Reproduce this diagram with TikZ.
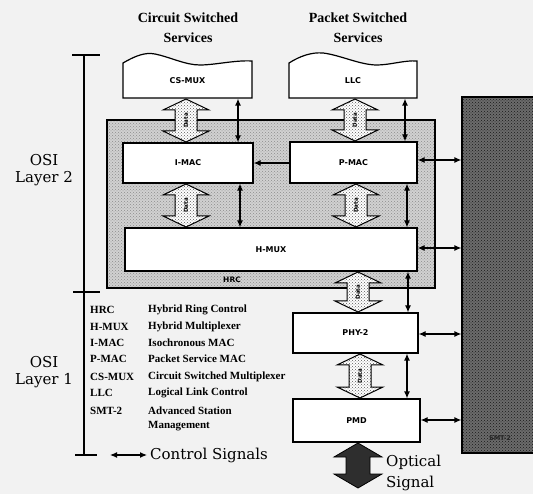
\documentclass[tikz,border=0pt]{standalone}
\usepackage{fontspec}
\setmainfont{Liberation Serif}
\newfontfamily\osifont{DejaVu Serif}
\newfontfamily\lblfont{DejaVu Sans}
\usetikzlibrary{arrows.meta,patterns}
\newcommand\bigdata[4]{%
  \path[#4] (#1,#2) -- (#1+23,#2+11) -- (#1+11,#2+11) -- (#1+11,#3-11) -- (#1+23,#3-11) -- (#1,#3) -- (#1-23,#3-11) -- (#1-11,#3-11) -- (#1-11,#2+11) -- (#1-23,#2+11) -- cycle;}
\begin{document}
\begin{tikzpicture}[x=1pt,y=-1pt,
  box/.style={draw, line width=1.2pt, fill=white, inner sep=0pt, font=\lblfont\bfseries\fontsize{8}{9}\selectfont},
  ctl/.style={line width=1.2pt, {Latex[length=7pt,width=6pt]}-{Latex[length=7pt,width=6pt]}},
  ctlone/.style={line width=1.2pt, -{Latex[length=7pt,width=6pt]}},
  dataarr/.style={draw, line width=1pt, preaction={fill=white}, pattern=crosshatch dots, pattern color=black!65},
  datatxt/.style={font=\lblfont\bfseries\fontsize{5.5}{6}\selectfont, inner sep=0pt, rotate=90},
  leg/.style={anchor=west, inner sep=0pt, font=\bfseries\fontsize{11}{12}\selectfont},
  osi/.style={align=center, font=\osifont\fontsize{15}{17}\selectfont},
  head/.style={align=center, font=\bfseries\fontsize{14}{20}\selectfont}
]
\useasboundingbox (0,0) rectangle (533,494);
\fill[black!5] (0,0) rectangle (533,494);

% headings
\node[head] (cshead) at (188,28) {Circuit Switched\\Services};
\node[head] (pshead) at (358,28) {Packet Switched\\Services};

% HRC shaded region and SMT-2
\node[draw, line width=1.2pt, preaction={fill=black!18}, pattern=crosshatch dots, pattern color=black!45, minimum width=328, minimum height=168, inner sep=0pt] (hrc) at (271,204) {};
\node[font=\lblfont\bfseries\fontsize{7.5}{8}\selectfont, inner sep=0pt] (hrclbl) at (232,280) {HRC};
\node[draw, line width=1.2pt, preaction={fill=black!58}, pattern=crosshatch dots, pattern color=black!90, minimum width=80, minimum height=356, inner sep=0pt] (smt) at (502,275) {};
\node[font=\lblfont\bfseries\fontsize{6.5}{7}\selectfont, text=black!85, inner sep=0pt] (smtlbl) at (500,438) {SMT-2};

% wavy service boxes
\draw[line width=1.2pt, fill=white] (123,98) -- (123,63) .. controls (135,56) and (145,52) .. (155,54) .. controls (170,57) and (185,65) .. (200,65) .. controls (215,65) and (235,60) .. (252,61) -- (252,98) -- cycle;
\draw[line width=1.2pt, fill=white] (289,98) -- (289,63) .. controls (300,56) and (312,52) .. (323,53) .. controls (340,55) and (360,65) .. (377,65) .. controls (390,65) and (405,60) .. (417,61) -- (417,98) -- cycle;
\node[box, draw=none, fill=none, minimum width=129, minimum height=35] (csmux) at (187.5,80.5) {CS-MUX};
\node[box, draw=none, fill=none, minimum width=128, minimum height=35] (llc) at (353,80.5) {LLC};

% boxes
\node[box, minimum width=130, minimum height=40] (imac) at (188,163) {I-MAC};
\node[box, minimum width=127, minimum height=41] (pmac) at (353.5,162.5) {P-MAC};
\node[box, minimum width=292, minimum height=43] (hmux) at (271,249.5) {H-MUX};
\node[box, minimum width=125, minimum height=40] (phy) at (355.5,333) {PHY-2};
\node[box, minimum width=127, minimum height=43] (pmd) at (356.5,420.5) {PMD};

% data arrows
\bigdata{186}{99}{142}{dataarr}
\node[datatxt] (d1) at (186,120.5) {Data};
\bigdata{355}{99}{141}{dataarr}
\node[datatxt] (d2) at (355,120) {Data};
\bigdata{186}{184}{227}{dataarr}
\node[datatxt] (d3) at (186,205.5) {Data};
\bigdata{356}{184}{227}{dataarr}
\node[datatxt] (d4) at (356,205.5) {Data};
\bigdata{358}{272}{312}{dataarr}
\node[datatxt] (d5) at (358,292) {Data};
\bigdata{360}{354}{398}{dataarr}
\node[datatxt] (d6) at (360,376) {Data};
% optical arrow
\path[fill=black!82, draw=black, line width=0.8pt] (358,443) -- (382,457) -- (370,457) -- (370,474) -- (382,474) -- (358,488) -- (334,474) -- (346,474) -- (346,457) -- (334,457) -- cycle;
\node[anchor=west, align=left, inner sep=0pt, font=\osifont\fontsize{15}{21}\selectfont] (opt) at (386,472.5) {Optical\\Signal};

% control arrows
\draw[ctl] (csmux.south -| 238,0) -- (imac.north -| 238,0);
\draw[ctl] (llc.south -| 405,0) -- (pmac.north -| 405,0);
\draw[ctl] (imac.south -| 240,0) -- (hmux.north -| 240,0);
\draw[ctl] (pmac.south -| 407,0) -- (hmux.north -| 407,0);
\draw[ctl] (hmux.south -| 408,0) -- (phy.north -| 408,0);
\draw[ctl] (phy.south -| 407,0) -- (pmd.north -| 407,0);
\draw[ctlone] (pmac.west |- 0,163) -- (imac.east |- 0,163);
\draw[ctl] (pmac.east |- 0,160) -- (smt.west |- 0,160);
\draw[ctl] (hmux.east |- 0,248) -- (smt.west |- 0,248);
\draw[ctl] (phy.east |- 0,334) -- (smt.west |- 0,334);
\draw[ctl] (pmd.east |- 0,420) -- (smt.west |- 0,420);

% OSI bracket
\draw[line width=1.1pt] (84,55) -- (84,455);
\draw[line width=1.1pt] (72,55) -- (100,55);
\draw[line width=1.1pt] (73,292) -- (100,292);
\draw[line width=1.1pt] (75,455) -- (97,455);
\node[osi] (osi2) at (44,170) {OSI\\Layer 2};
\node[osi] (osi1) at (44,372.5) {OSI\\Layer 1};

% legend
\node[leg] (a1) at (90,310) {HRC};     \node[leg] (n1) at (148,310) {Hybrid Ring Control};
\node[leg] (a2) at (90,327) {H-MUX};   \node[leg] (n2) at (148,327) {Hybrid Multiplexer};
\node[leg] (a3) at (90,343) {I-MAC};   \node[leg] (n3) at (148,343) {Isochronous MAC};
\node[leg] (a4) at (90,359) {P-MAC};   \node[leg] (n4) at (148,359) {Packet Service MAC};
\node[leg] (a5) at (90,377) {CS-MUX};  \node[leg] (n5) at (148,377) {Circuit Switched Multiplexer};
\node[leg] (a6) at (90,393) {LLC};     \node[leg] (n6) at (148,393) {Logical Link Control};
\node[leg] (a7) at (90,411) {SMT-2};   \node[leg] (n7) at (148,411) {Advanced Station};
\node[leg] (n8) at (148,426) {Management};

% control signals key
\coordinate (ks) at (110,455);
\node[anchor=west, inner sep=0pt, font=\osifont\fontsize{15}{17}\selectfont] (ctlsig) at (150,455) {Control Signals};
\draw[ctl] (ks) -- ([xshift=-3pt]ctlsig.west);
\end{tikzpicture}
\end{document}
